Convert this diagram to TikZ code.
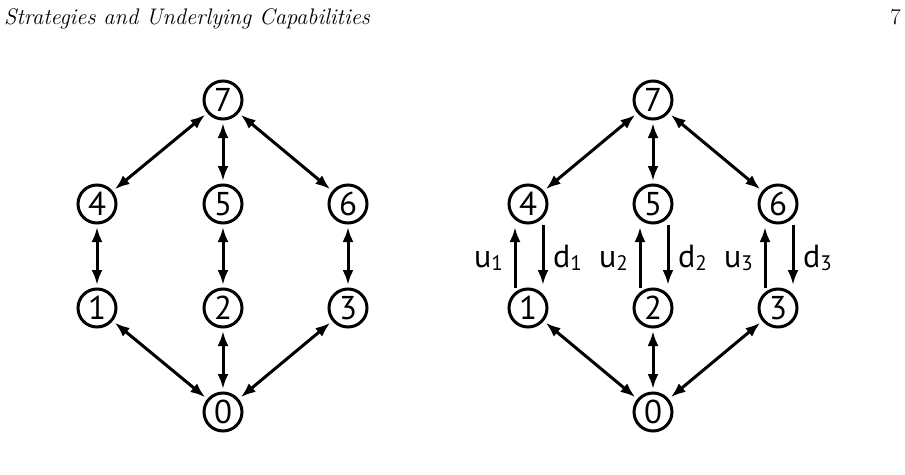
\documentclass[tikz,border=0pt]{standalone}
\usepackage{fontspec}
\newfontfamily\diag{PT Sans}
\usetikzlibrary{arrows.meta}
\newcommand{\sbs}[1]{\raisebox{-3pt}{\fontsize{21}{21}\selectfont #1}}
\begin{document}
\begin{tikzpicture}[x=1pt,y=-1pt,
  st/.style={circle,draw,line width=3pt,minimum size=38pt,inner sep=0pt,font=\diag\fontsize{33}{33}\selectfont},
  bi/.style={line width=3pt,{Latex[length=15pt,width=11pt]}-{Latex[length=15pt,width=11pt]},shorten >=2.5pt,shorten <=2.5pt},
  one/.style={line width=3pt,-{Latex[length=15pt,width=11pt]},shorten >=2.5pt},
  lab/.style={font=\diag\fontsize{32}{32}\selectfont,inner sep=0pt},
  hdr/.style={font=\fontsize{22.5}{26}\selectfont\itshape,inner sep=0pt}]
\useasboundingbox (0,0) rectangle (905,474);
\node[hdr,anchor=base west] (title) at (4,24) {Strategies and Underlying Capabilities};
\node[hdr,anchor=base east,font=\fontsize{22.5}{26}\selectfont] (page) at (901,24) {7};
% left diagram
\foreach \n/\x/\y in {7/223/100,4/97/204,5/223/204,6/348/204,1/97/308,2/223/308,3/348/308,0/223/412}
  \node[st] (L\n) at (\x,\y) {\n};
\foreach \a/\b in {L7/L4,L7/L5,L7/L6,L4/L1,L5/L2,L6/L3,L0/L1,L0/L2,L0/L3}
  \draw[bi] (\a) -- (\b);
% right diagram
\foreach \n/\x/\y in {7/653/100,4/528/204,5/653/204,6/778/204,1/528/308,2/653/308,3/778/308,0/653/412}
  \node[st] (R\n) at (\x,\y) {\n};
\foreach \a/\b in {R7/R4,R7/R5,R7/R6,R0/R1,R0/R2,R0/R3}
  \draw[bi] (\a) -- (\b);
\foreach \lo/\hi/\i in {R1/R4/1,R2/R5/2,R3/R6/3}{
  \draw[one] ([xshift=-13pt]\lo.north) -- ([xshift=-13pt]\hi.south);
  \draw[one] ([xshift=15pt]\hi.south) -- ([xshift=15pt]\lo.north);
  \node[lab,anchor=base east] (u\i) at ([xshift=-25pt]\hi.south |- 0,267) {u\sbs{\i}};
  \node[lab,anchor=base west] (d\i) at ([xshift=25pt]\hi.south |- 0,267) {d\sbs{\i}};
}
\end{tikzpicture}
\end{document}
